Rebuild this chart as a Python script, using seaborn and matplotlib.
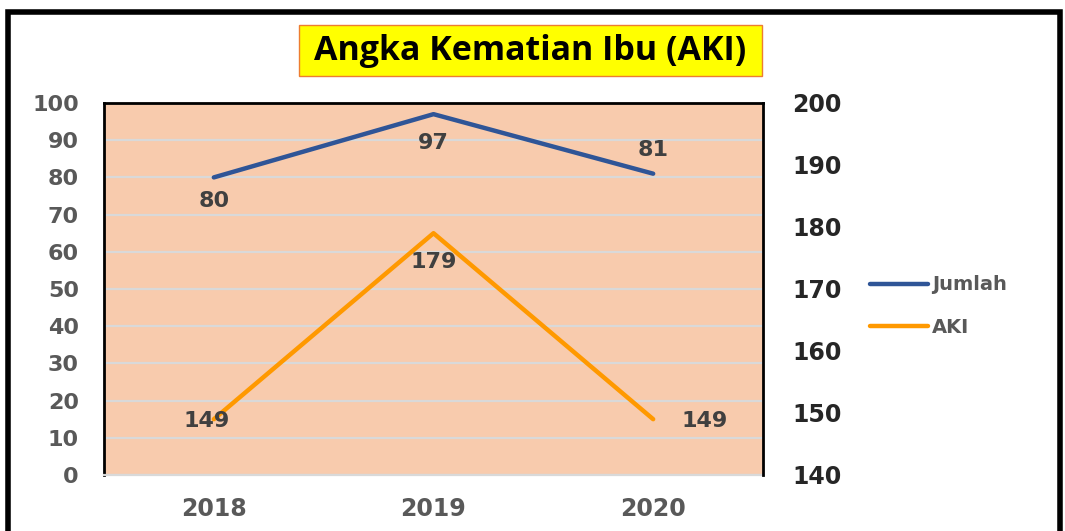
import pandas as pd
import matplotlib
matplotlib.use('Agg')
import matplotlib.pyplot as plt
import seaborn as sns
from matplotlib.patches import Rectangle

# Data
years = ['2018', '2019', '2020']
jumlah = [80, 97, 81]
aki = [149, 179, 149]
left_ticks = list(range(0, 101, 10))
right_ticks = list(range(140, 201, 10))

df = pd.DataFrame({'tahun': years, 'Jumlah': jumlah, 'AKI': aki})

sns.set_style('white')
plt.rcParams['font.family'] = ['DejaVu Sans']

blue = '#2F5597'
orange = '#FF9900'
grey_txt = '#595959'
label_txt = '#404040'

fig = plt.figure(figsize=(10.65, 5.31), dpi=100)
ax = fig.add_axes([104 / 1065, 56 / 531, 659 / 1065, 372 / 531])
ax.set_facecolor('#F8CBAD')

sns.lineplot(data=df, x='tahun', y='Jumlah', ax=ax, color=blue, linewidth=3.2,
             label='Jumlah', legend=False)
ax2 = ax.twinx()
sns.lineplot(data=df, x='tahun', y='AKI', ax=ax2, color=orange, linewidth=3.2,
             label='AKI', legend=False)

ax.set_xlim(-0.5, 2.5)
ax.set_ylim(0, 100)
ax2.set_ylim(140, 200)
ax.set_yticks(left_ticks)
ax2.set_yticks(right_ticks)
ax.set_xlabel('')
ax.set_ylabel('')
ax2.set_ylabel('')

ax.grid(axis='y', color='#D9D9D9', linewidth=1.6)
ax.set_axisbelow(True)
ax.tick_params(axis='y', length=0, pad=18, labelsize=16, labelcolor=grey_txt)
ax.tick_params(axis='x', length=0, pad=16, labelsize=17, labelcolor=grey_txt)
ax2.tick_params(axis='y', length=0, pad=21, labelsize=17, labelcolor='#262626')
for t in ax.get_xticklabels() + ax.get_yticklabels() + ax2.get_yticklabels():
    t.set_fontweight('bold')

for s in ['left', 'top']:
    ax.spines[s].set_color('black')
    ax.spines[s].set_linewidth(2)
ax.spines['bottom'].set_color('#D9D9D9')
ax.spines['bottom'].set_linewidth(1.6)
ax.spines['right'].set_visible(False)
ax2.spines['right'].set_color('black')
ax2.spines['right'].set_linewidth(2)
for s in ['left', 'top', 'bottom']:
    ax2.spines[s].set_visible(False)

# data labels
j_off = [(0, -17), (0, -21), (0, 17)]
a_off = [(-5, -1), (0, -21), (37, -1)]
for i, (y, v) in enumerate(zip(years, jumlah)):
    ax.annotate(str(v), (i, v), xytext=j_off[i], textcoords='offset points',
                ha='center', va='center', fontsize=16, fontweight='bold', color=label_txt)
for i, (y, v) in enumerate(zip(years, aki)):
    ax2.annotate(str(v), (i, v), xytext=a_off[i], textcoords='offset points',
                 ha='center', va='center', fontsize=16, fontweight='bold', color=label_txt)

# legend
h1, l1 = ax.get_legend_handles_labels()
h2, l2 = ax2.get_legend_handles_labels()
leg = fig.legend(h1 + h2, l1 + l2, loc='center left', bbox_to_anchor=(852 / 1065, 1 - 306 / 531),
                 frameon=False, handlelength=3.0, handletextpad=0.2, labelspacing=1.2,
                 prop={'weight': 'bold', 'size': 14})
for t in leg.get_texts():
    t.set_color(grey_txt)

# title box and text
fig.add_artist(Rectangle((299 / 1065, 1 - 76 / 531), 463 / 1065, 51 / 531, transform=fig.transFigure,
                         facecolor='#FFFF00', edgecolor='#ED7D31', linewidth=1))
fig.text(530 / 1065, 1 - 51 / 531, 'Angka Kematian Ibu (AKI)', ha='center', va='center',
         fontsize=24.5, family='Open Sans', fontweight='bold', color='black')

# outer frame
fig.add_artist(Rectangle((8 / 1065, -0.1), 1052 / 1065, 1.1 - 12 / 531, transform=fig.transFigure,
                         fill=False, edgecolor='black', linewidth=4, clip_on=False))

fig.savefig('out.png', dpi=100)
